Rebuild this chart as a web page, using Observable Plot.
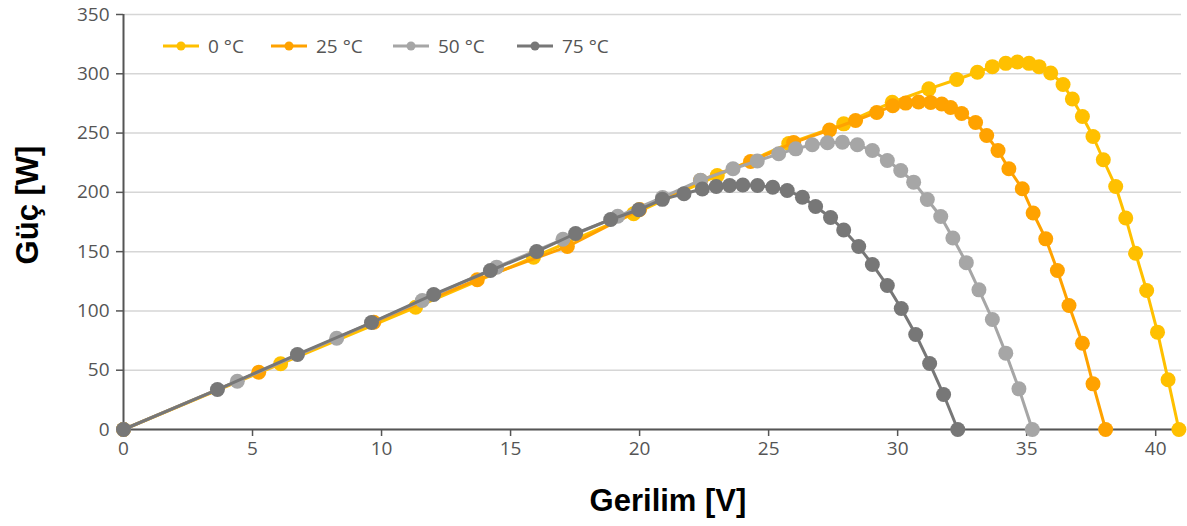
<!DOCTYPE html>
<html><head><meta charset="utf-8">
<script src="https://cdn.jsdelivr.net/npm/d3@7"></script>
<script src="https://cdn.jsdelivr.net/npm/@observablehq/plot@0.6"></script>
<style>body{margin:0;background:#fff}</style>
</head><body><div id="chart"></div>
<script>
const series = ["0 °C", "25 °C", "50 °C", "75 °C"];
const colors = ["#FFC000", "#FFA200", "#A6A6A6", "#777777"];

// 0 °C
const v0 = [0, 6.09, 11.32, 15.89, 19.77, 23.01, 25.78, 27.91, 29.79, 31.21, 32.29, 33.09, 33.67, 34.19, 34.64, 35.09, 35.48, 35.93, 36.41, 36.77, 37.16, 37.57, 37.97, 38.45, 38.84, 39.22, 39.65, 40.07, 40.48, 40.90];
const p0 = [0, 55.4, 103.1, 145.3, 181.9, 214.2, 241.2, 257.8, 276.0, 287.3, 295.2, 301.3, 306.0, 308.8, 310.0, 308.8, 306.0, 300.7, 291.0, 278.7, 264.0, 247.1, 227.5, 204.9, 178.4, 148.7, 117.2, 82.1, 41.9, 0];
// 25 °C
const v25 = [0, 5.24, 9.70, 13.71, 17.20, 20.00, 22.36, 24.30, 25.97, 27.36, 28.37, 29.19, 29.81, 30.31, 30.81, 31.28, 31.71, 32.05, 32.48, 33.02, 33.45, 33.89, 34.31, 34.83, 35.25, 35.74, 36.19, 36.64, 37.16, 37.57, 38.06];
const p25 = [0, 48.3, 90.5, 126.3, 154.3, 185.5, 210.0, 226.0, 242.0, 252.6, 260.6, 267.4, 273.0, 275.3, 276.2, 275.8, 274.5, 271.6, 266.5, 258.9, 247.9, 235.3, 219.9, 203.0, 182.6, 160.8, 134.1, 104.6, 72.8, 38.5, 0];
// 50 °C
const v50 = [0, 4.41, 8.26, 11.58, 14.46, 17.03, 19.15, 20.89, 22.36, 23.62, 24.56, 25.39, 26.05, 26.69, 27.28, 27.86, 28.44, 29.02, 29.60, 30.12, 30.62, 31.15, 31.67, 32.14, 32.66, 33.15, 33.67, 34.19, 34.70, 35.22];
const p50 = [0, 40.7, 77.0, 108.8, 136.9, 160.4, 179.8, 195.7, 210.3, 219.9, 226.4, 232.5, 236.7, 240.1, 241.8, 242.3, 240.1, 235.3, 226.9, 218.4, 208.6, 194.0, 179.6, 161.5, 140.7, 117.8, 92.8, 64.4, 34.3, 0];
// 75 °C
const v75 = [0, 3.64, 6.74, 9.61, 12.02, 14.22, 16.01, 17.52, 18.88, 19.97, 20.88, 21.72, 22.43, 22.97, 23.49, 24.00, 24.57, 25.16, 25.72, 26.31, 26.82, 27.40, 27.91, 28.49, 29.02, 29.60, 30.14, 30.70, 31.24, 31.78, 32.33];
const p75 = [0, 33.7, 63.3, 90.2, 113.9, 134.1, 150.1, 165.3, 177.1, 185.3, 194.1, 198.8, 202.8, 204.9, 205.8, 206.2, 205.8, 204.3, 201.6, 195.9, 188.1, 178.8, 168.3, 154.3, 139.2, 121.4, 102.0, 80.1, 55.7, 29.5, 0];

const xTicks = [0, 5, 10, 15, 20, 25, 30, 35, 40];
const yTicks = [0, 50, 100, 150, 200, 250, 300, 350];
const xTitle = "Gerilim [V]";
const yTitle = "Güç [W]";

const vs = [v0, v25, v50, v75];
const ps = [p0, p25, p50, p75];
const rows = series.map((s, i) => vs[i].map((v, j) => ({series: s, v, p: ps[i][j]})));

const marks = [
  Plot.gridY(yTicks, {stroke: "#d6d6d6", strokeOpacity: 1, strokeWidth: 1.5}),
  Plot.axisY(yTicks, {tickSize: 7, tickPadding: 7, label: null, stroke: "#555", strokeWidth: 1.5, fill: "#555"}),
  Plot.axisX(xTicks, {tickSize: 7, tickPadding: 5, label: null, stroke: "#555", strokeWidth: 1.5, fill: "#555"}),
  Plot.ruleY([0], {stroke: "#555", strokeWidth: 2}),
  Plot.ruleX([0], {stroke: "#555", strokeWidth: 2})
];
rows.forEach((r, i) => {
  marks.push(Plot.line(r, {x: "v", y: "p", stroke: colors[i], strokeWidth: 3}));
  marks.push(Plot.dot(r, {x: "v", y: "p", r: 7.5, fill: colors[i]}));
});

const plot = Plot.plot({
  width: 1187, height: 526,
  marginLeft: 123, marginRight: 6, marginTop: 14, marginBottom: 97,
  style: {fontFamily: "'Open Sans', sans-serif", fontSize: "19px", color: "#555", background: "#fff"},
  x: {domain: [0, 41]},
  y: {domain: [0, 350]},
  marks
});
document.getElementById("chart").appendChild(plot);

const svg = d3.select(plot);
svg.append("text").attr("x", 668).attr("y", 511).attr("text-anchor", "middle")
  .style("font-family", "'Liberation Sans', Arial, sans-serif").style("font-weight", "bold").style("font-size", "31px").attr("fill", "#000").text(xTitle);
svg.append("text").attr("transform", "translate(38,205) rotate(-90)").attr("text-anchor", "middle")
  .style("font-family", "'Liberation Sans', Arial, sans-serif").style("font-weight", "bold").style("font-size", "31px").attr("fill", "#000").text(yTitle);

const legendX = [163, 271, 393, 517];
const lg = svg.append("g");
series.forEach((s, i) => {
  const g = lg.append("g").attr("transform", `translate(${legendX[i]},46)`);
  g.append("line").attr("x1", 0).attr("x2", 36).attr("y1", 0).attr("y2", 0).attr("stroke", colors[i]).attr("stroke-width", 3);
  g.append("circle").attr("cx", 18).attr("cy", 0).attr("r", 4.5).attr("fill", colors[i]);
  g.append("text").attr("x", 45).attr("y", 0).attr("dy", "0.35em").attr("text-anchor", "start")
    .style("font-family", "'Open Sans', sans-serif").style("font-size", "19px").attr("fill", "#555").text(s);
});
</script>
</body></html>
